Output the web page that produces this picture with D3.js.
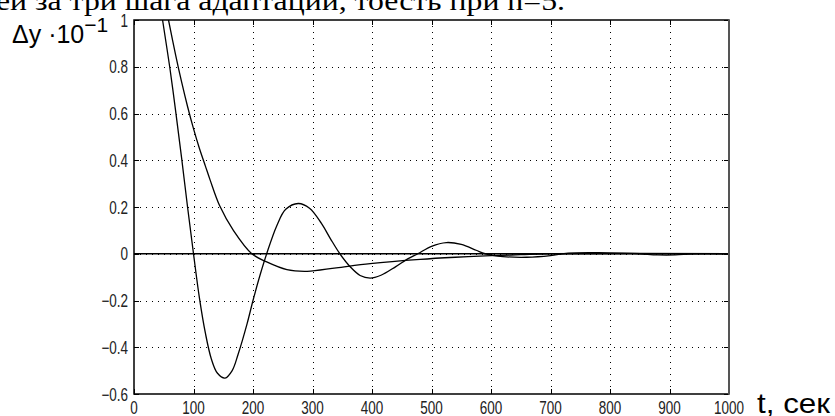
<!DOCTYPE html>
<html>
<head>
<meta charset="utf-8">
<script src="https://d3js.org/d3.v7.min.js"></script>
<style>
  body { margin: 0; background: #fff; }
</style>
</head>
<body>
<script>
// fast oscillating response
var tFast = [45, 48, 60, 70, 80, 90, 100, 110, 120, 130, 140, 153, 165, 175, 190, 200, 212, 223, 240, 255, 276, 295, 315, 330, 346, 365, 380, 397, 415, 440, 460, 477, 500, 525, 550, 575, 590, 620, 660, 700, 730, 780, 820, 850, 880, 910, 940, 1000];
var yFast = [1.06, 1.0, 0.80, 0.61, 0.41, 0.20, 0.0, -0.19, -0.34, -0.45, -0.51, -0.532, -0.50, -0.43, -0.30, -0.20, -0.09, 0.0, 0.12, 0.19, 0.215, 0.195, 0.13, 0.065, 0.0, -0.06, -0.093, -0.104, -0.092, -0.055, -0.022, 0.0, 0.032, 0.048, 0.04, 0.015, 0.0, -0.012, -0.015, -0.008, 0.003, 0.005, 0.003, 0.0, -0.005, -0.005, 0.0, 0.0];
// slow decaying response
var tSlow = [54, 58, 70, 80, 90, 100, 110, 120, 128, 144, 167, 198, 223, 257, 291, 340, 397, 481, 540, 600, 650, 700, 1000];
var ySlow = [1.05, 1.0, 0.85, 0.735, 0.63, 0.535, 0.45, 0.375, 0.315, 0.205, 0.1, 0.0, -0.035, -0.068, -0.075, -0.06, -0.042, -0.024, -0.015, -0.008, -0.004, 0.0, 0.0];

var xTicks = [0, 100, 200, 300, 400, 500, 600, 700, 800, 900, 1000];
var yTicks = [-0.6, -0.4, -0.2, 0, 0.2, 0.4, 0.6, 0.8, 1];

var W = 835, H = 416;
var svg = d3.select("body").append("svg").attr("width", W).attr("height", H);

var x = d3.scaleLinear().domain([0, 1000]).range([134, 729]);
var y = d3.scaleLinear().domain([-0.6, 1]).range([394, 20]);

// title line, cut at the top of the picture
svg.append("text")
  .attr("x", -4).attr("y", 10)
  .attr("textLength", 569).attr("lengthAdjust", "spacingAndGlyphs")
  .style("font-family", "'Liberation Serif', 'Times New Roman', serif")
  .style("font-size", "28px")
  .text("ей за три шага адаптации, тоесть при n=5.");

// grid
var grid = svg.append("g").attr("stroke", "#000").attr("stroke-width", 1)
  .attr("stroke-dasharray", "1,5");
grid.selectAll(".gx").data(xTicks.slice(1, -1)).enter().append("line")
  .attr("x1", d => Math.round(x(d)) + 0.5).attr("x2", d => Math.round(x(d)) + 0.5)
  .attr("y1", y(1)).attr("y2", y(-0.6));
grid.selectAll(".gy").data(yTicks.slice(1, -1)).enter().append("line")
  .attr("y1", d => Math.round(y(d)) + 0.5).attr("y2", d => Math.round(y(d)) + 0.5)
  .attr("x1", x(0)).attr("x2", x(1000));

// ticks inside on every side
var tk = svg.append("g").attr("stroke", "#000").attr("stroke-width", 1);
xTicks.forEach(function(d) {
  var px = Math.round(x(d)) + 0.5;
  tk.append("line").attr("x1", px).attr("x2", px).attr("y1", y(-0.6)).attr("y2", y(-0.6) - 5);
  tk.append("line").attr("x1", px).attr("x2", px).attr("y1", y(1)).attr("y2", y(1) + 5);
});
yTicks.forEach(function(d) {
  var py = Math.round(y(d)) + 0.5;
  tk.append("line").attr("y1", py).attr("y2", py).attr("x1", x(0)).attr("x2", x(0) + 5);
  tk.append("line").attr("y1", py).attr("y2", py).attr("x1", x(1000)).attr("x2", x(1000) - 5);
});

// zero line
svg.append("line")
  .attr("x1", x(0)).attr("x2", x(1000))
  .attr("y1", y(0)).attr("y2", y(0))
  .attr("stroke", "#000").attr("stroke-width", 1.3);

// curves
svg.append("clipPath").attr("id", "plot").append("rect")
  .attr("x", x(0)).attr("y", y(1)).attr("width", x(1000) - x(0)).attr("height", y(-0.6) - y(1));

var line = d3.line().x(d => x(d[0])).y(d => y(d[1])).curve(d3.curveCatmullRom.alpha(0.5));

svg.append("path")
  .datum(d3.zip(tFast, yFast))
  .attr("clip-path", "url(#plot)")
  .attr("fill", "none").attr("stroke", "#000").attr("stroke-width", 1.3)
  .attr("d", line);

svg.append("path")
  .datum(d3.zip(tSlow, ySlow))
  .attr("clip-path", "url(#plot)")
  .attr("fill", "none").attr("stroke", "#000").attr("stroke-width", 1.3)
  .attr("d", line);

// frame
svg.append("path")
  .attr("d", "M" + x(1000) + "," + y(1) + "H" + x(0) + "V" + y(-0.6) + "H" + x(1000))
  .attr("fill", "none").attr("stroke", "#000").attr("stroke-width", 1.5);
svg.append("line")
  .attr("x1", x(1000)).attr("x2", x(1000)).attr("y1", y(1) - 0.75).attr("y2", y(-0.6) + 0.75)
  .attr("stroke", "#555").attr("stroke-width", 2);

// tick labels, narrow MATLAB style
var lab = svg.append("g")
  .style("font-family", "'Liberation Sans', Arial, sans-serif")
  .style("font-size", "18px").attr("fill", "#222");
xTicks.forEach(function(d) {
  lab.append("text")
    .attr("transform", "translate(" + x(d) + ",414) scale(0.75,1)")
    .attr("text-anchor", "middle")
    .text(d);
});
yTicks.forEach(function(d) {
  lab.append("text")
    .attr("transform", "translate(128," + (y(d) + 6.5) + ") scale(0.75,1)")
    .attr("text-anchor", "end")
    .text(d3.format("")(d));
});

// axis labels
var yl = svg.append("text")
  .attr("x", 12).attr("y", 43)
  .style("font-family", "'Liberation Sans', Arial, sans-serif")
  .style("font-size", "25px");
yl.append("tspan").text("\u0394y \u00b710");
yl.append("tspan").attr("dy", -11).style("font-size", "21px").text("\u22121");

svg.append("text")
  .attr("x", 757).attr("y", 413)
  .attr("textLength", 73).attr("lengthAdjust", "spacingAndGlyphs")
  .style("font-family", "'Liberation Sans', Arial, sans-serif")
  .style("font-size", "28px")
  .text("t, сек");
</script>
</body>
</html>
